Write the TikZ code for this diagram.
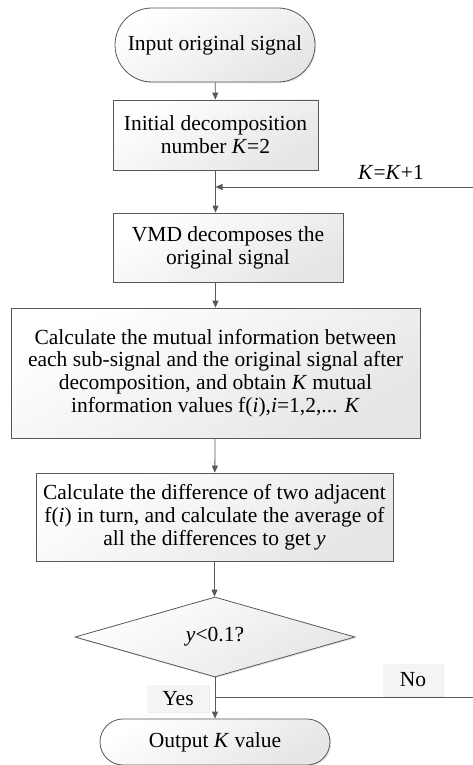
\documentclass[tikz,border=0pt]{standalone}
\usepackage{fontspec}
\setmainfont{Liberation Serif}
\usetikzlibrary{positioning,shapes.misc,shapes.geometric,arrows.meta,shadows}

\begin{document}
\begin{tikzpicture}
    [
    x=1pt, y=-1pt,
    font=\fontsize{21.5}{22.8}\selectfont,
    boxed/.style={draw=gray!70!black, line width=0.8pt, top color=white, bottom color=gray!20,
      shading angle=30, drop shadow={shadow xshift=1.2pt, shadow yshift=-1.2pt, opacity=0.2},
      align=center, inner sep=2pt},
    proc/.style={boxed, rectangle},
    term/.style={boxed, rounded rectangle},
    cond/.style={boxed, diamond, aspect=3.5, inner sep=0pt},
    tag/.style={fill=gray!9, inner sep=0pt,
      drop shadow={shadow xshift=1.2pt, shadow yshift=-1.2pt, opacity=0.15}},
    line/.style={draw=gray!70!black, line width=0.8pt},
    flow/.style={line, -{Triangle[length=7pt,width=6pt]}},
    ]
    \useasboundingbox (0,0) rectangle (473,765);

    \node (start) at (215,45) [term, minimum width=204pt, minimum height=74pt] {Input original signal};
    \node (init) at (215.5,135) [proc, minimum width=205pt, minimum height=70pt]
      {Initial decomposition\\number \textit{K}=2};
    \node (vmd) at (228,247.5) [proc, minimum width=230pt, minimum height=69pt]
      {VMD decomposes the\\original signal};
    \node (mi) at (215.5,373) [proc, minimum width=409pt, minimum height=130pt]
      {Calculate the mutual information between\\each sub-signal and the original signal after\\
       decomposition, and obtain \textit{K} mutual\\information values f(\textit{i}),\textit{i}=1,2,... \textit{K}};
    \node (diff) at (214.5,517) [proc, minimum width=357pt, minimum height=88pt]
      {Calculate the difference of two adjacent\\f(\textit{i}) in turn, and calculate the average of\\
       all the differences to get \textit{y}};
    \node (dec) at (215,637) [cond, minimum width=280pt, minimum height=80pt] {\textit{y}<0.1?};
    \node (out) at (215,742) [term, minimum width=234pt, minimum height=46pt] {Output \textit{K} value};

    \node (inc) at (391,172) {\textit{K}=\textit{K}+1};
    \coordinate (kin) at (473,187);
    \coordinate (nout) at (473,697);

    \draw [flow] (start) to (init);
    \draw [flow] (init.south) to (init.south |- vmd.north);
    \draw [flow] (vmd.south -| mi.north) to (mi.north);
    \draw [flow] (mi) to (diff);
    \draw [flow] (diff.south) to (diff.south |- dec.north);
    \draw [flow] (dec) to (out);
    \draw [flow] (kin) to (init.south |- kin);
    \draw [line] (dec.south |- nout) to (nout);

    \node (yes) at (178,698.5) [tag, minimum width=62pt, minimum height=27pt] {Yes};
    \node (no) at (413,680) [tag, minimum width=60pt, minimum height=32pt] {No};
  \end{tikzpicture}
\end{document}
